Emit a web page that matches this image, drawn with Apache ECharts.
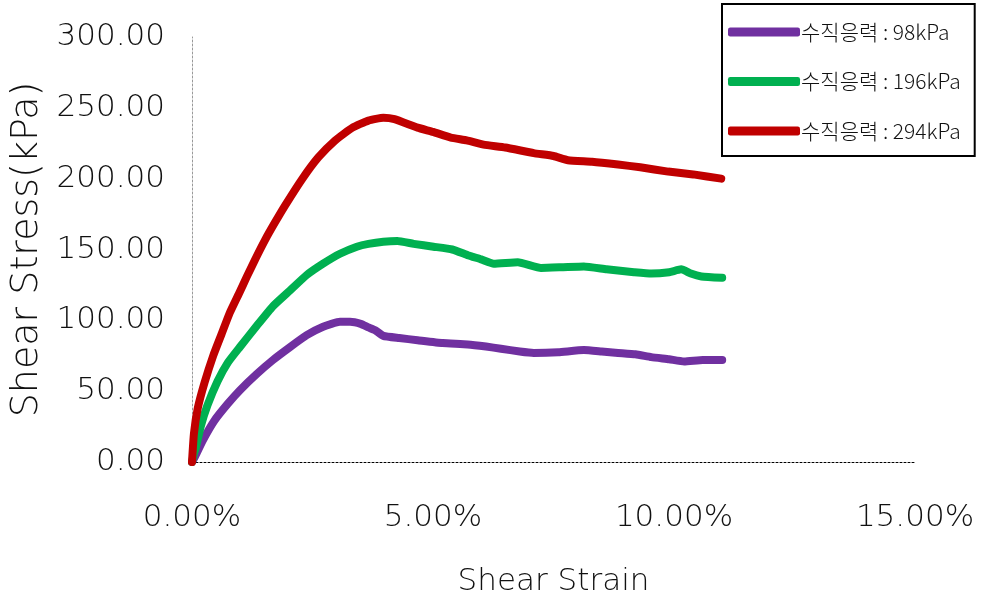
<!DOCTYPE html>
<html>
<head>
<meta charset="utf-8">
<script src="https://cdn.jsdelivr.net/npm/echarts@6/dist/echarts.min.js"></script>
<style>html,body{margin:0;padding:0;background:#fff}#c{width:981px;height:606px}</style>
</head>
<body>
<div id="c"></div>
<script>
var seriesNames = ['수직응력 : 98kPa', '수직응력 : 196kPa', '수직응력 : 294kPa'];
var xTicks = [0, 5, 10, 15];
var yTicks = [0, 50, 100, 150, 200, 250, 300];

var strain98 = [0, 0.05, 0.22, 0.46, 0.74, 0.99, 1.34, 1.68, 2.03, 2.38, 2.72, 3.07, 3.28, 3.5, 3.66, 3.8, 3.97, 4.3, 4.68, 5.2, 5.72, 6.1, 6.41, 6.8, 7.09, 7.6, 8.13, 8.5, 8.84, 9.2, 9.53, 9.9, 10.21, 10.6, 11.0];
var stress98 = [0, 3, 15, 29, 41, 50.5, 62, 72, 81, 89.5, 95.5, 99, 99, 97.5, 95, 93, 89, 87.5, 86, 84, 83, 81.5, 80, 78, 77, 77.5, 79, 78, 77, 76, 74, 72.5, 71, 72, 72];

var strain196 = [0, 0.04, 0.08, 0.18, 0.32, 0.53, 0.74, 0.99, 1.34, 1.68, 2.03, 2.38, 2.72, 3.07, 3.42, 3.66, 3.97, 4.26, 4.6, 5.01, 5.4, 5.72, 6.0, 6.26, 6.76, 7.24, 7.7, 8.13, 8.6, 9.17, 9.53, 9.9, 10.15, 10.35, 10.57, 11.0];
var stress196 = [0, 6, 10, 25, 40, 57, 70, 81, 96, 110, 121, 132, 140, 147, 152, 154, 155.5, 156, 154, 152, 150, 146, 143, 140, 141, 137, 137.5, 138, 136, 134, 133, 134, 136, 133, 131, 130];

var strain294 = [0, 0.04, 0.12, 0.26, 0.44, 0.61, 0.78, 0.99, 1.14, 1.31, 1.52, 1.72, 1.93, 2.29, 2.62, 2.97, 3.33, 3.66, 3.97, 4.2, 4.68, 5.0, 5.37, 5.7, 6.05, 6.5, 7.09, 7.5, 7.8, 8.3, 8.84, 9.3, 9.88, 10.4, 10.98];
var stress294 = [0, 20, 38, 56, 75, 90, 105, 120, 131, 143, 157, 169, 181, 200, 215, 227, 236, 241, 243, 242, 236, 233, 229, 227, 224, 222, 218, 216, 213, 212, 210, 208, 205, 203, 200];

var colors = ['#7030A0', '#00B050', '#C00000'];

function pairs(xs, ys) { return xs.map(function (x, i) { return [x, ys[i]]; }); }
var allData = [pairs(strain98, stress98), pairs(strain196, stress196), pairs(strain294, stress294)];

var AX = '"DejaVu Sans", "Liberation Sans", sans-serif';
var LG = '"Noto Sans CJK KR", sans-serif';
var chart = echarts.init(document.getElementById('c'), null, { renderer: 'canvas' });
chart.setOption({
  animation: false,
  backgroundColor: '#fff',
  grid: { left: 192, right: 66, top: 37, bottom: 144, containLabel: false, outerBoundsMode: 'none' },
  legend: {
    orient: 'vertical', left: 722, top: 4,
    data: seriesNames,
    icon: 'roundRect', itemWidth: 72, itemHeight: 9, itemGap: 25.5,
    padding: [16, 14, 13, 6],
    borderColor: '#000', borderWidth: 2,
    textStyle: { fontFamily: LG, fontSize: 21, color: '#111', fontWeight: 300, lineHeight: 24, padding: [0, 0, 0, -4] }
  },
  xAxis: {
    type: 'value', min: 0, max: 15, interval: 5,
    name: 'Shear Strain', nameLocation: 'middle', nameGap: 104,
    nameTextStyle: { fontFamily: AX, fontSize: 31, color: '#111', fontWeight: 200 },
    axisLine: { show: true, lineStyle: { color: '#000', type: [2, 2], width: 1 } },
    axisTick: { show: false }, splitLine: { show: false },
    axisLabel: { margin: 40, fontFamily: AX, fontSize: 31, color: '#111', fontWeight: 200,
      formatter: function (v) { return v.toFixed(2) + '%'; } }
  },
  yAxis: {
    type: 'value', min: 0, max: 300, interval: 50,
    name: 'Shear Stress(kPa)', nameLocation: 'middle', nameGap: 146, nameRotate: 90,
    nameTextStyle: { fontFamily: AX, fontSize: 38, color: '#111', fontWeight: 200 },
    axisLine: { show: true, onZero: false, lineStyle: { color: '#999', type: [2, 2], width: 1 } },
    axisTick: { show: false }, splitLine: { show: false },
    axisLabel: { margin: 27, fontFamily: AX, fontSize: 31, color: '#111', fontWeight: 200,
      formatter: function (v) { return v.toFixed(2); } }
  },
  series: seriesNames.map(function (n, i) {
    return {
      name: n, type: 'line', data: allData[i], showSymbol: false, symbol: 'none',
      smooth: 0.15, color: colors[i],
      lineStyle: { width: 8, color: colors[i], cap: 'round', join: 'round' }
    };
  })
});
</script>
</body>
</html>
